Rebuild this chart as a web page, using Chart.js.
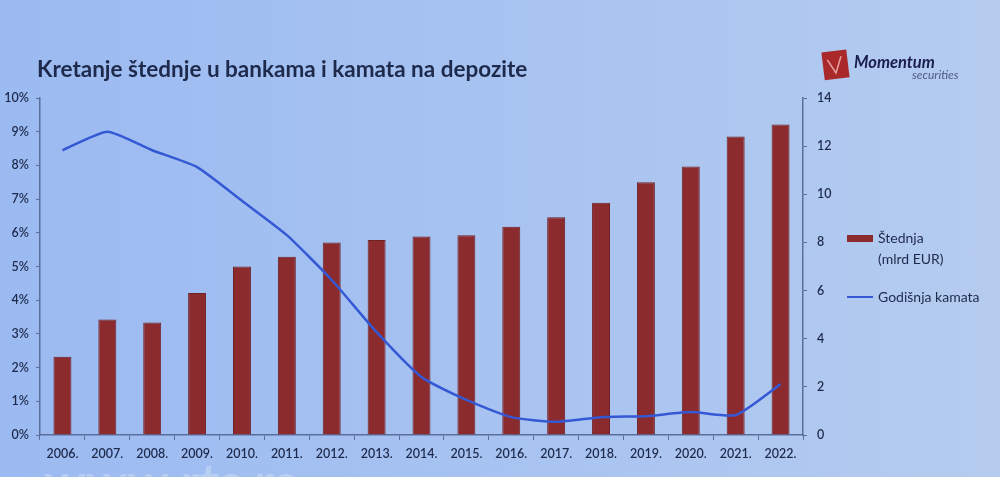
<!DOCTYPE html>
<html>
<head>
<meta charset="utf-8">
<script src="https://cdn.jsdelivr.net/npm/chart.js@4/dist/chart.umd.min.js"></script>
<style>
  html, body { margin: 0; padding: 0; }
  body {
    width: 1000px; height: 477px; overflow: hidden;
    background: linear-gradient(90deg, #9bbaf1 0%, #a6c2f1 45%, #b5ccef 100%);
  }
  #wrap { position: relative; width: 1000px; height: 477px; }
</style>
</head>
<body>
<div id="wrap"><canvas id="chart" width="1000" height="477"></canvas></div>
<script>
const YEARS = ['2006.', '2007.', '2008.', '2009.', '2010.', '2011.', '2012.', '2013.', '2014.',
  '2015.', '2016.', '2017.', '2018.', '2019.', '2020.', '2021.', '2022.']
// Štednja, mlrd EUR (right axis)
const SAVINGS = [3.25, 4.8, 4.67, 5.9, 7.0, 7.4, 8.0, 8.1, 8.25, 8.3, 8.65, 9.05, 9.65, 10.5, 11.15, 12.4, 12.9]
// Godišnja kamata, % (left axis)
const RATE = [8.45, 9.0, 8.45, 7.95, 6.95, 5.93, 4.6, 3.05, 1.72, 1.04, 0.53, 0.39, 0.53, 0.56, 0.68, 0.59, 1.51]

const TITLE = 'Kretanje štednje u bankama i kamata na depozite'
const SAVINGS_LABEL = ['Štednja', '(mlrd EUR)']
const RATE_LABEL = 'Godišnja kamata'

const BAR = '#8c2b2d'
const BAR_EDGE = '#6f2126'
const LINE = '#3558d4'
const AXIS = '#5b6f9c'
const TEXT = '#1e2a4c'
const FONT = "Lato, 'Open Sans', sans-serif"

Chart.defaults.font.family = FONT
Chart.defaults.color = TEXT

// title, logo, legend and watermark
const decor = {
  id: 'decor',
  afterDraw(chart) {
    const ctx = chart.ctx
    ctx.save()
    ctx.fillStyle = TEXT
    ctx.font = `bold 22.5px ${FONT}`
    ctx.textBaseline = 'middle'
    ctx.fillText(TITLE, 37, 70)

    // logo
    ctx.save()
    ctx.translate(835, 65)
    ctx.rotate(-0.12)
    ctx.fillStyle = '#a9292b'
    ctx.fillRect(-12, -14, 25, 28)
    ctx.strokeStyle = '#e8a0a0'
    ctx.lineWidth = 1.5
    ctx.beginPath()
    ctx.moveTo(-7, -6); ctx.lineTo(0, 8); ctx.lineTo(7, -8)
    ctx.stroke()
    ctx.restore()
    ctx.fillStyle = '#1a1d4e'
    ctx.font = `italic bold 16.5px ${FONT}`
    ctx.fillText('Momentum', 854, 63)
    ctx.fillStyle = '#4a5a86'
    ctx.font = `italic 12px ${FONT}`
    ctx.fillText('securities', 912, 75)

    // legend
    const bar = chart.data.datasets[0]
    const line = chart.data.datasets[1]
    ctx.fillStyle = bar.backgroundColor
    ctx.fillRect(847, 235, 26, 7)
    ctx.fillStyle = TEXT
    ctx.font = `14px ${FONT}`
    ctx.fillText(SAVINGS_LABEL[0], 878, 238)
    ctx.fillText(SAVINGS_LABEL[1], 878, 259)
    ctx.strokeStyle = line.borderColor
    ctx.lineWidth = 2
    ctx.beginPath()
    ctx.moveTo(847, 297); ctx.lineTo(873, 297)
    ctx.stroke()
    ctx.fillText(RATE_LABEL, 878, 297)

    // watermark
    ctx.fillStyle = 'rgba(255,255,255,0.25)'
    ctx.font = `bold 52px ${FONT}`
    ctx.textBaseline = 'top'
    ctx.fillText('www.rts.rs', 44, 458)
    ctx.restore()
  }
}

new Chart(document.getElementById('chart'), {
  type: 'bar',
  data: {
    labels: YEARS,
    datasets: [
      {
        type: 'bar',
        label: 'Štednja (mlrd EUR)',
        data: SAVINGS,
        yAxisID: 'y1',
        backgroundColor: BAR,
        borderColor: BAR_EDGE,
        borderWidth: 1,
        categoryPercentage: 1,
        barPercentage: 0.4,
        order: 1,
      },
      {
        type: 'line',
        label: RATE_LABEL,
        data: RATE,
        yAxisID: 'y',
        borderColor: LINE,
        borderWidth: 2.5,
        pointRadius: 0,
        tension: 0.18,
        fill: false,
        order: 0,
      },
    ],
  },
  options: {
    responsive: false,
    animation: false,
    layout: { padding: { top: 98, left: 0, right: 167, bottom: 0 } },
    plugins: { legend: { display: false }, tooltip: { enabled: false } },
    scales: {
      x: {
        offset: true,
        grid: { display: true, drawOnChartArea: false, color: AXIS, tickLength: 5, offset: true },
        border: { color: AXIS, width: 1.5 },
        ticks: { font: { size: 12.5, weight: '600' }, color: TEXT, padding: 6, maxRotation: 0, autoSkip: false },
        afterFit: s => { s.height = 42 },
      },
      y: {
        position: 'left',
        min: 0,
        max: 10,
        grid: { display: true, drawOnChartArea: false, color: AXIS, tickLength: 4 },
        border: { color: AXIS, width: 1.5 },
        ticks: { stepSize: 1, font: { size: 12.5, weight: '600' }, color: TEXT, padding: 7, callback: v => v + '%' },
        afterFit: s => { s.width = 40 },
      },
      y1: {
        position: 'right',
        min: 0,
        max: 14,
        grid: { display: true, drawOnChartArea: false, color: AXIS, tickLength: 4 },
        border: { color: AXIS, width: 1.5 },
        ticks: { stepSize: 2, font: { size: 12.5, weight: '600' }, color: TEXT, padding: 10 },
        afterFit: s => { s.width = 30 },
      },
    },
  },
  plugins: [decor],
})
</script>
</body>
</html>
